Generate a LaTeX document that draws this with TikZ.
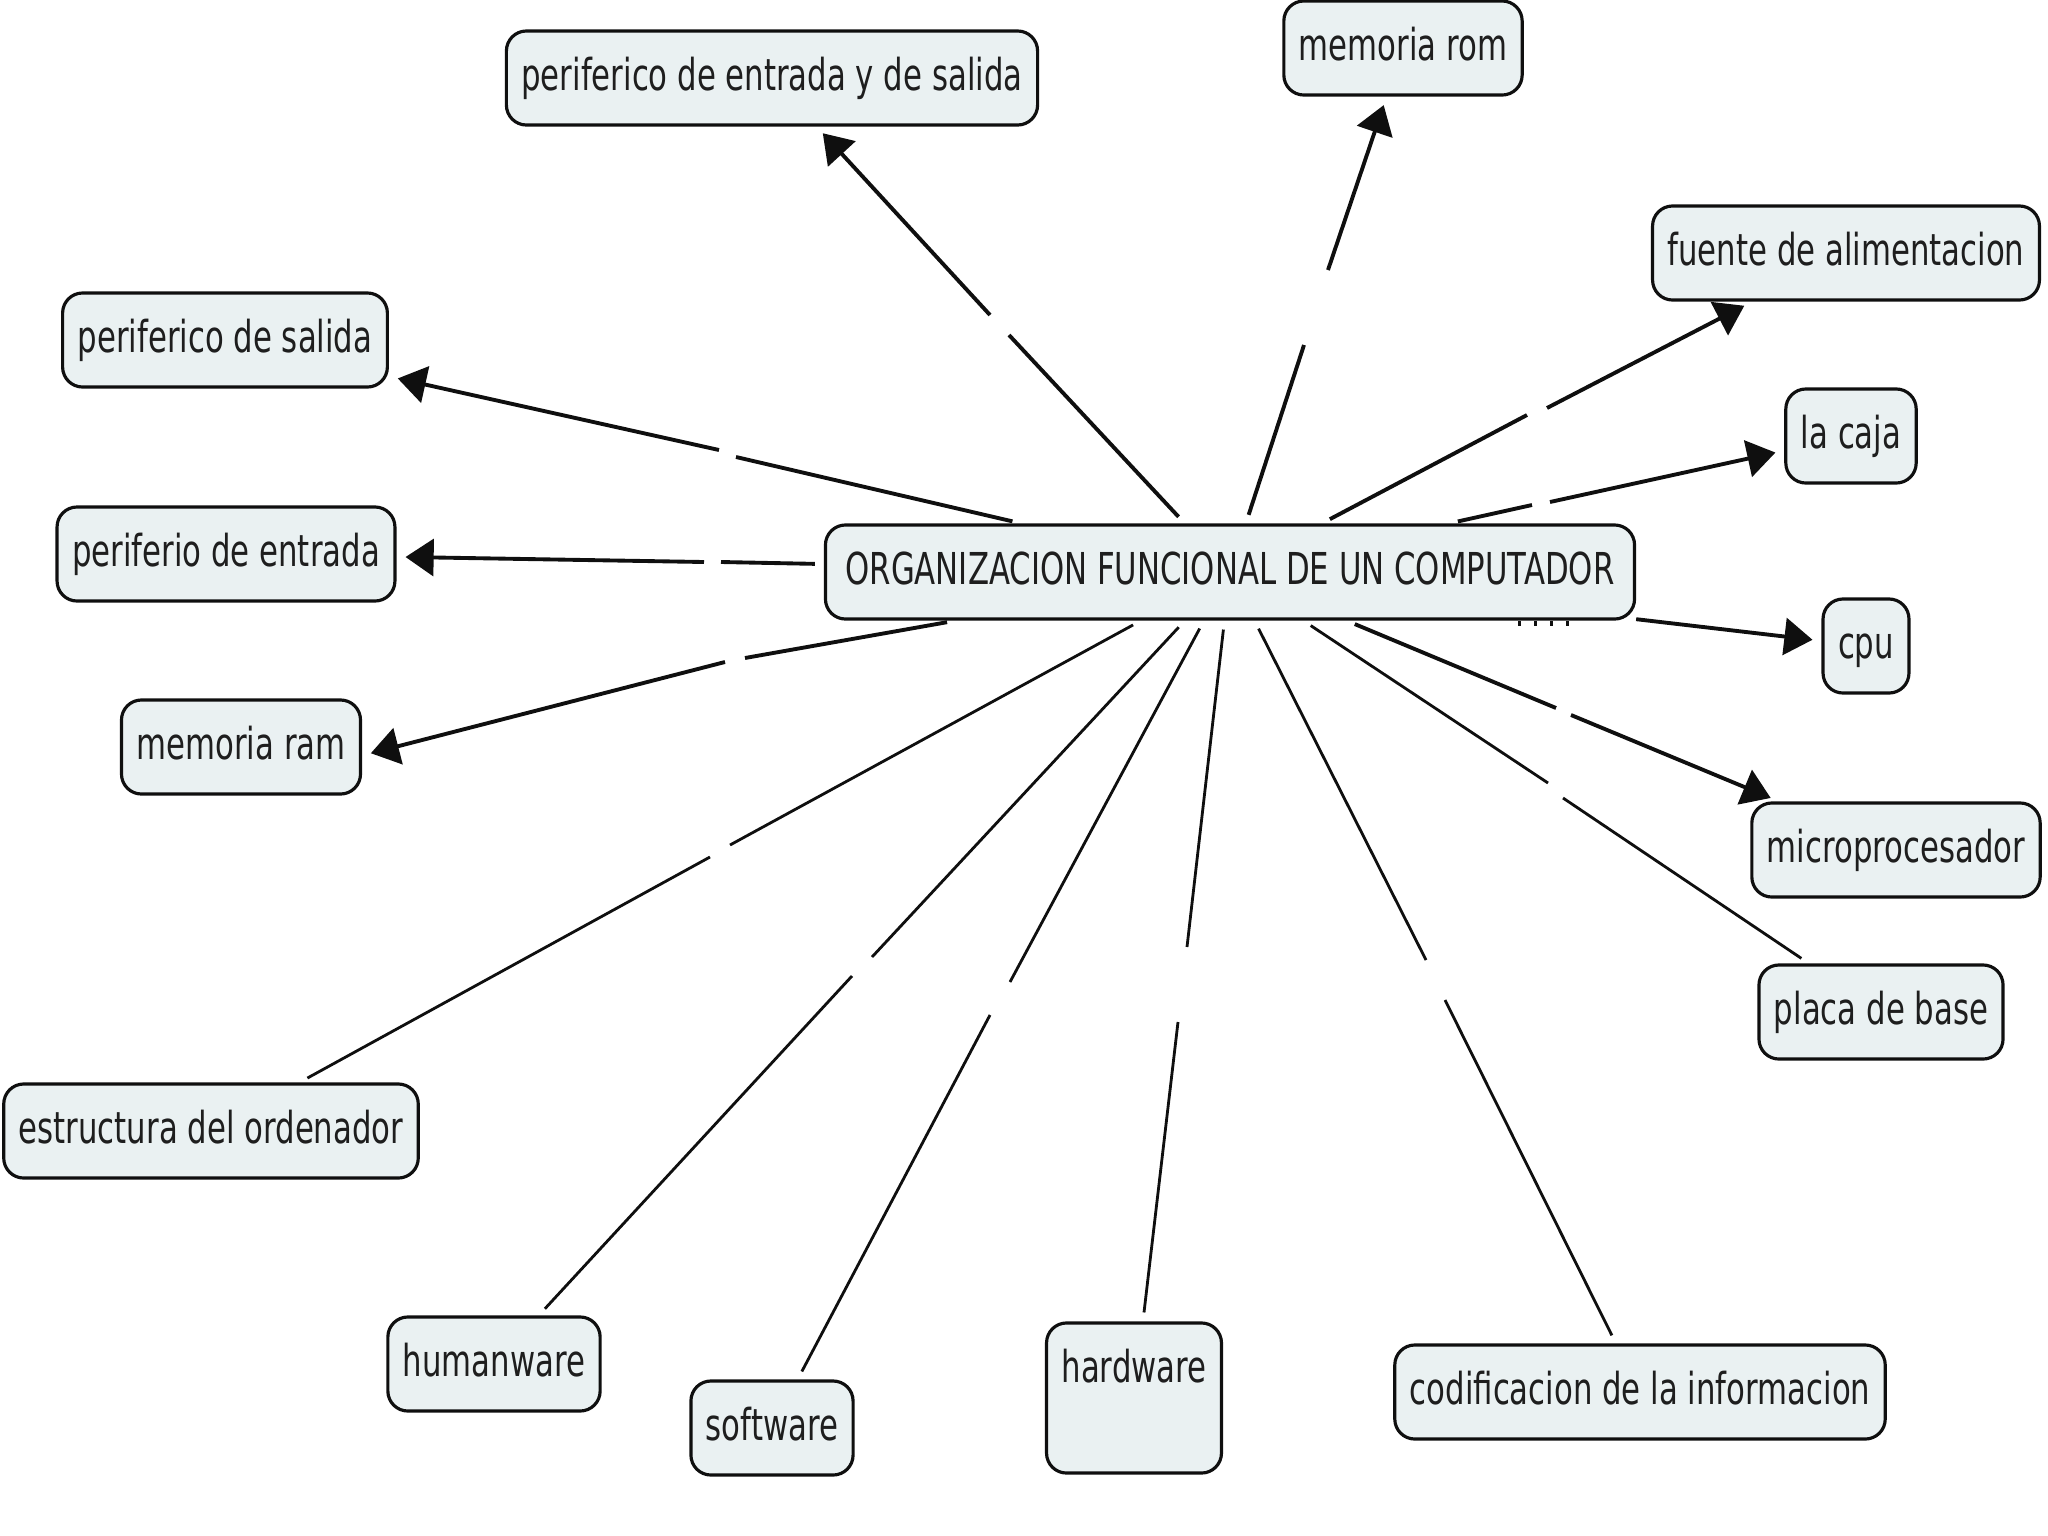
\documentclass[tikz,border=0pt]{standalone}
\usepackage{fontspec}
\setmainfont{DejaVu Sans}[FakeStretch=0.7]
\usetikzlibrary{arrows.meta}
\definecolor{cmapfill}{RGB}{234,241,242}
\definecolor{cmapline}{RGB}{15,15,15}
\definecolor{cmaptext}{RGB}{30,30,30}
\tikzset{
  concept/.style={draw=cmapline,line width=0.9pt,fill=cmapfill,rounded corners=0.2cm,
    font=\fontsize{12.5}{14}\selectfont,text=cmaptext,inner xsep=0.15cm,inner ysep=0.26cm,
    text height=0.33cm,text depth=0.09cm},
  arrfrom/.style={draw=cmapline,line width=1.1pt,shorten <=0.09cm},
  arrto/.style={draw=cmapline,line width=1.1pt,shorten >=0.09cm,-{Triangle[length=8pt,width=10.5pt]}},
  linfrom/.style={draw=cmapline,line width=0.8pt,shorten <=0.09cm},
  linto/.style={draw=cmapline,line width=0.8pt,shorten >=0.09cm}
}

\begin{document}
\begin{tikzpicture}[x=0.01cm,y=-0.01cm]
  \useasboundingbox (0,0) rectangle (2048,1536);
  \node[concept,inner xsep=0.2cm] (org) at (1230,572) {ORGANIZACION FUNCIONAL DE UN COMPUTADOR};
  \node[concept] (perES) at (772,78) {periferico de entrada y de salida};
  \node[concept] (rom) at (1403,48) {memoria rom};
  \node[concept] (fuente) at (1846,253) {fuente de alimentacion};
  \node[concept] (caja) at (1851,436) {la caja};
  \node[concept] (cpu) at (1866,646) {cpu};
  \node[concept] (micro) at (1896,850) {microprocesador};
  \node[concept] (placa) at (1881,1012) {placa de base};
  \node[concept] (codif) at (1640,1392) {codificacion de la informacion};
  \node[concept,text depth=0.65cm] (hard) at (1134,1398) {hardware};
  \node[concept] (soft) at (772,1428) {software};
  \node[concept] (human) at (494,1364) {humanware};
  \node[concept] (estr) at (211,1131) {estructura del ordenador};
  \node[concept] (ram) at (241,747) {memoria ram};
  \node[concept] (perE) at (226,554) {periferio de entrada};
  \node[concept] (perS) at (225,340) {periferico de salida};

  \coordinate (perES-a) at (1009,335); \coordinate (perES-b) at (990,315);
  \coordinate (rom-a) at (1304,345);   \coordinate (rom-b) at (1328,270);
  \coordinate (fuente-a) at (1527,415); \coordinate (fuente-b) at (1547,408);
  \coordinate (caja-a) at (1532,505);  \coordinate (caja-b) at (1550,502);
  \coordinate (micro-a) at (1556,708); \coordinate (micro-b) at (1571,715);
  \coordinate (ram-a) at (745,658);    \coordinate (ram-b) at (725,662);
  \coordinate (perE-a) at (721,562);   \coordinate (perE-b) at (704,562);
  \coordinate (perS-a) at (736,457);   \coordinate (perS-b) at (719,450);
  \coordinate (placa-a) at (1548,783); \coordinate (placa-b) at (1563,798);
  \coordinate (codif-a) at (1426,960); \coordinate (codif-b) at (1445,1000);
  \coordinate (hard-a) at (1187,947);  \coordinate (hard-b) at (1178,1022);
  \coordinate (soft-a) at (1010,982);  \coordinate (soft-b) at (990,1015);
  \coordinate (human-a) at (872,957);  \coordinate (human-b) at (852,976);
  \coordinate (estr-a) at (730,845);   \coordinate (estr-b) at (710,857);

  \foreach \t in {perES,rom,fuente,caja,micro,perE,perS}{
    \draw[arrfrom] (org) -- (\t-a);
    \draw[arrto] (\t-b) -- (\t);
  }
  \draw[arrfrom] (org) -- (ram-a);
  \draw[arrto] (ram-b) -- (ram.-4);
  \foreach \t in {placa,codif,hard,soft,human,estr}{
    \draw[linfrom] (org) -- (\t-a);
    \draw[linto] (\t-b) -- (\t);
  }
  \draw[arrto] (org) -- (cpu);

  \foreach \d in {0,...,3}
    \fill[cmapline] (1518+16*\d,621) rectangle ++(2.5,5);
\end{tikzpicture}
\end{document}
